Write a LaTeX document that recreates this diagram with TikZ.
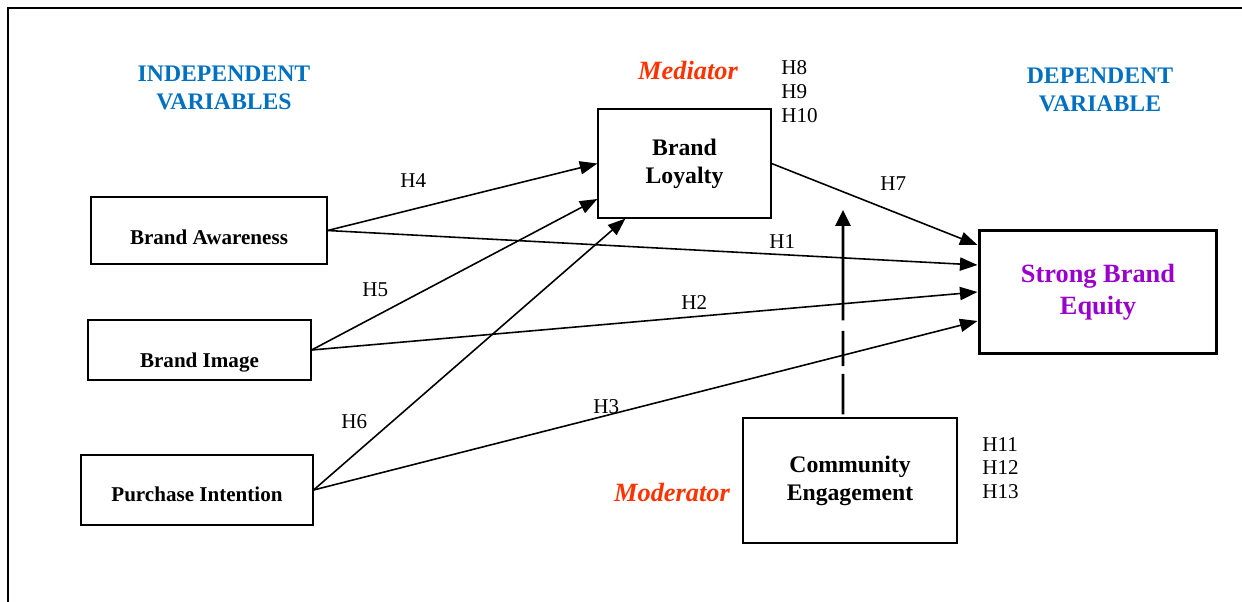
\documentclass[tikz,border=0pt]{standalone}
\usepackage{fontspec}
\setmainfont{Liberation Serif}
\usetikzlibrary{arrows.meta}
\definecolor{headblue}{RGB}{0,112,192}
\definecolor{rolered}{RGB}{255,51,0}
\definecolor{dvpurple}{RGB}{153,0,204}

\begin{document}
\begin{tikzpicture}[x=0.02cm,y=-0.02cm,
    box/.style={draw,rectangle,line width=0.7pt,align=center,inner sep=0pt},
    head/.style={align=center,text=headblue,font=\fontsize{13.5}{16}\selectfont\bfseries},
    role/.style={text=rolered,font=\fontsize{15}{18}\selectfont\bfseries\itshape},
    hyp/.style={align=left,anchor=west,inner sep=0pt,font=\fontsize{12}{13.5}\selectfont},
    link/.style={line width=0.9pt,-{Triangle[length=10pt,width=7.5pt]}}]
        \useasboundingbox (0,0) rectangle (1242,602);
        % Outer frame
        \draw[line width=1.4pt] (8,602) -- (8,8) -- (1242,8);
        % Headings
        \node[head] (indep) at (224,88)  {INDEPENDENT\\VARIABLES};
        \node[head] (dep)   at (1100,90) {DEPENDENT\\VARIABLE};
        \node[role] (med)   at (688,70)  {Mediator};
        \node[role] (mod)   at (672,492) {Moderator};
        % Define the boxes
        \node[box,minimum width=4.72cm,minimum height=1.34cm,text height=15.4pt,text depth=0pt,
            font=\fontsize{12}{14}\selectfont\bfseries]
            (BA) at (209,230.5) {Brand Awareness};
        \node[box,minimum width=4.46cm,minimum height=1.2cm,text height=19.4pt,text depth=0pt,
            font=\fontsize{12}{14}\selectfont\bfseries]
            (BI) at (199.5,350) {Brand Image};
        \node[box,minimum width=4.64cm,minimum height=1.4cm,text height=12.6pt,text depth=0pt,
            font=\fontsize{12}{14}\selectfont\bfseries]
            (PI) at (197,490) {Purchase Intention};
        \node[box,minimum width=3.46cm,minimum height=2.18cm,font=\fontsize{13.5}{16}\selectfont\bfseries]
            (BL) at (684.5,163.5) {Brand\\Loyalty};
        \node[box,line width=1.7pt,minimum width=4.76cm,minimum height=2.48cm,text=dvpurple,
            font=\fontsize{15}{18}\selectfont\bfseries]
            (SBE) at (1098,292) {Strong Brand\\Equity};
        \node[box,minimum width=4.28cm,minimum height=2.5cm,font=\fontsize{13.5}{16}\selectfont\bfseries]
            (CE) at (850,480.5) {Community\\Engagement};
        % Hypothesis labels
        \node[hyp] (h8)  at (781,91.5) {H8\\H9\\H10};
        \node[hyp] (h11) at (982,468)  {H11\\H12\\H13};
        \node[hyp] (h4) at (400,181) {H4};
        \node[hyp] (h1) at (769,242) {H1};
        \node[hyp] (h5) at (362,290) {H5};
        \node[hyp] (h2) at (681,303) {H2};
        \node[hyp] (h6) at (341,422) {H6};
        \node[hyp] (h3) at (593,407) {H3};
        \node[hyp] (h7) at (880,184) {H7};
        % Paths to the mediator
        \draw[link] (BA.east) -- (BL.west);
        \draw[link] (BI.east) -- ([yshift=-0.71cm]BL.west);
        \draw[link] (PI.east) -- ([xshift=0.56cm]BL.south west);
        % Paths to the dependent variable
        \draw[link] (BA.east) -- ([yshift=0.54cm]SBE.west);
        \draw[link] (BI.east) -- (SBE.west);
        \draw[link] (PI.east) -- ([yshift=-0.58cm]SBE.west);
        \draw[link] (BL.east) -- ([yshift=0.94cm]SBE.west);
        % Moderating effect
        \coordinate (modtip) at (843,210);
        \draw[line width=1.5pt,-{Triangle[length=9pt,width=8.5pt]},
            dash pattern=on 23pt off 4.5pt on 20pt off 6pt on 200pt off 0pt]
            ([xshift=-0.14cm,yshift=0.06cm]CE.north) -- (modtip);
    \end{tikzpicture}
\end{document}
